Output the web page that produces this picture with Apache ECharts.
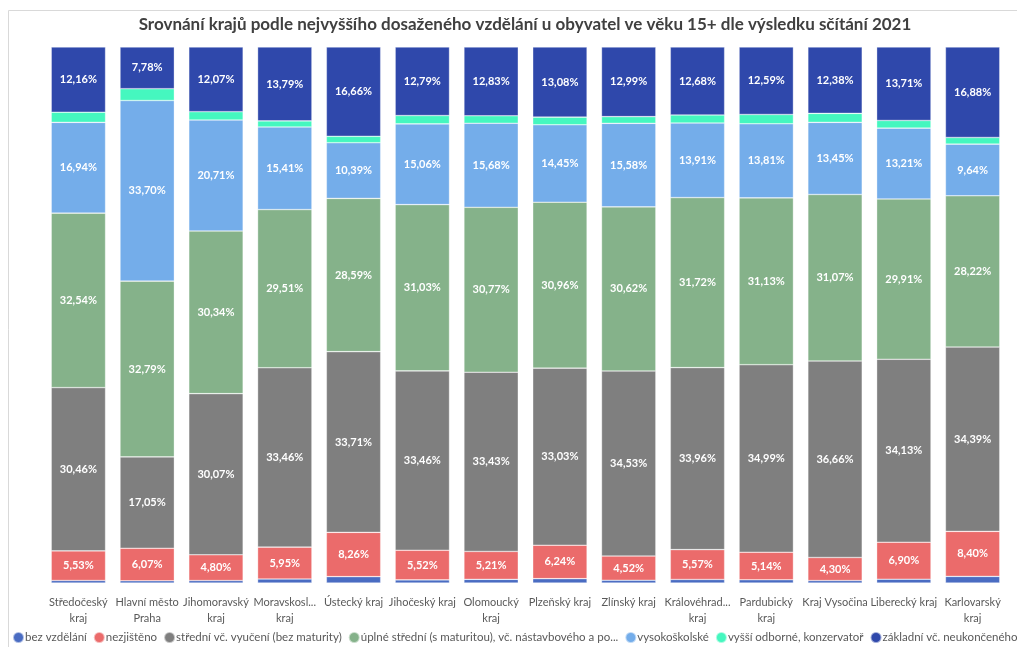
<!DOCTYPE html>
<html lang="cs">
<head>
<meta charset="UTF-8">
<title>Vzdělání podle krajů 2021</title>
<style>
  html, body { margin: 0; padding: 0; background: #fff; }
  #chart { width: 1017px; height: 647px; }
</style>
</head>
<body>
<div id="chart"></div>
<script src="https://cdn.jsdelivr.net/npm/echarts@6/dist/echarts.min.js"></script>
<script>
// kraje (pořadí jako v grafu)
const regions = ['Středočeský kraj', 'Hlavní město Praha', 'Jihomoravský kraj', 'Moravskoslezský kraj',
  'Ústecký kraj', 'Jihočeský kraj', 'Olomoucký kraj', 'Plzeňský kraj', 'Zlínský kraj',
  'Královéhradecký kraj', 'Pardubický kraj', 'Kraj Vysočina', 'Liberecký kraj', 'Karlovarský kraj']
// popisky osy tak, jak jsou zobrazeny
const tickLabels = ['Středočeský\nkraj', 'Hlavní město\nPraha', 'Jihomoravský\nkraj', 'Moravskosl...\nkraj',
  'Ústecký kraj', 'Jihočeský kraj', 'Olomoucký\nkraj', 'Plzeňský kraj', 'Zlínský kraj',
  'Královéhrad...\nkraj', 'Pardubický\nkraj', 'Kraj Vysočina', 'Liberecký kraj', 'Karlovarský\nkraj']

// podíly v % (bez vzdělání a vyšší odborné odhadnuto z výšky sloupců)
const bezVzdelani = [0.47, 0.41, 0.46, 0.75, 1.19, 0.59, 0.68, 0.81, 0.51, 0.66, 0.60, 0.46, 0.71, 1.23]
const nezjisteno = [5.53, 6.07, 4.80, 5.95, 8.26, 5.52, 5.21, 6.24, 4.52, 5.57, 5.14, 4.30, 6.90, 8.40]
const stredni = [30.46, 17.05, 30.07, 33.46, 33.71, 33.46, 33.43, 33.03, 34.53, 33.96, 34.99, 36.66, 34.13, 34.39]
const uplneStredni = [32.54, 32.79, 30.34, 29.51, 28.59, 31.03, 30.77, 30.96, 30.62, 31.72, 31.13, 31.07, 29.91, 28.22]
const vysokoskolske = [16.94, 33.70, 20.71, 15.41, 10.39, 15.06, 15.68, 14.45, 15.58, 13.91, 13.81, 13.45, 13.21, 9.64]
const vyssiOdborne = [1.90, 2.20, 1.55, 1.13, 1.20, 1.55, 1.40, 1.43, 1.25, 1.50, 1.74, 1.68, 1.43, 1.24]
const zakladni = [12.16, 7.78, 12.07, 13.79, 16.66, 12.79, 12.83, 13.08, 12.99, 12.68, 12.59, 12.38, 13.71, 16.88]

const font = 'Lato, "Open Sans", sans-serif'

function pct(p) {
  return p.value.toFixed(2).replace('.', ',') + '%'
}

function makeSeries(name, data, color, showLabel) {
  return {
    name: name,
    type: 'bar',
    stack: 'celkem',
    data: data,
    barCategoryGap: '21%',
    itemStyle: { color: color, borderColor: 'rgba(255,255,255,0.55)', borderWidth: 0.6 },
    label: {
      show: showLabel,
      position: 'inside',
      color: '#fff',
      fontSize: 11,
      fontWeight: 'bold',
      fontFamily: font,
      formatter: pct
    },
    emphasis: { disabled: true }
  }
}

const myChart = echarts.init(document.getElementById('chart'))

const option = {
  animation: false,
  title: {
    text: 'Srovnání krajů podle nejvyššího dosaženého vzdělání u obyvatel ve věku 15+ dle výsledku sčítání 2021',
    left: 520,
    textAlign: 'center',
    top: 11,
    textStyle: { fontSize: 17, fontWeight: 'bold', color: '#404040', fontFamily: font }
  },
  graphic: [{
    type: 'rect',
    shape: { x: 8.5, y: 10.5, width: 1030, height: 660 },
    style: { fill: 'none', stroke: '#d9d9d9', lineWidth: 1 },
    silent: true
  }],
  legend: {
    left: 12,
    top: 631,
    width: 2000,
    orient: 'horizontal',
    padding: 0,
    itemGap: 6,
    itemWidth: 11,
    itemHeight: 11,
    icon: 'circle',
    textStyle: { fontSize: 11.5, color: '#595959', fontFamily: font, padding: [0, 0, 0, -4] },
    formatter: function (name) {
      return name.length > 52 ? name.slice(0, 50) + '...' : name
    }
  },
  grid: { left: 44, right: 10, top: 47, bottom: 64, containLabel: false },
  xAxis: {
    type: 'category',
    data: regions,
    axisLine: { show: false },
    axisTick: { show: false },
    axisLabel: {
      interval: 0,
      margin: 11,
      color: '#595959',
      fontSize: 11,
      lineHeight: 16,
      fontFamily: font,
      formatter: function (v, i) { return tickLabels[i] }
    }
  },
  yAxis: {
    type: 'value',
    min: 0,
    max: 100,
    show: false,
    splitLine: { show: false }
  },
  series: [
    makeSeries('bez vzdělání', bezVzdelani, '#4a6cc2', false),
    makeSeries('nezjištěno', nezjisteno, '#eb6b6b', true),
    makeSeries('střední vč. vyučení (bez maturity)', stredni, '#7f7f7f', true),
    makeSeries('úplné střední (s maturitou), vč. nástavbového a pomaturitního', uplneStredni, '#85b28a', true),
    makeSeries('vysokoškolské', vysokoskolske, '#74adea', true),
    makeSeries('vyšší odborné, konzervatoř', vyssiOdborne, '#45f7bf', false),
    makeSeries('základní vč. neukončeného', zakladni, '#2f48ab', true)
  ]
}

myChart.setOption(option)
</script>
</body>
</html>
